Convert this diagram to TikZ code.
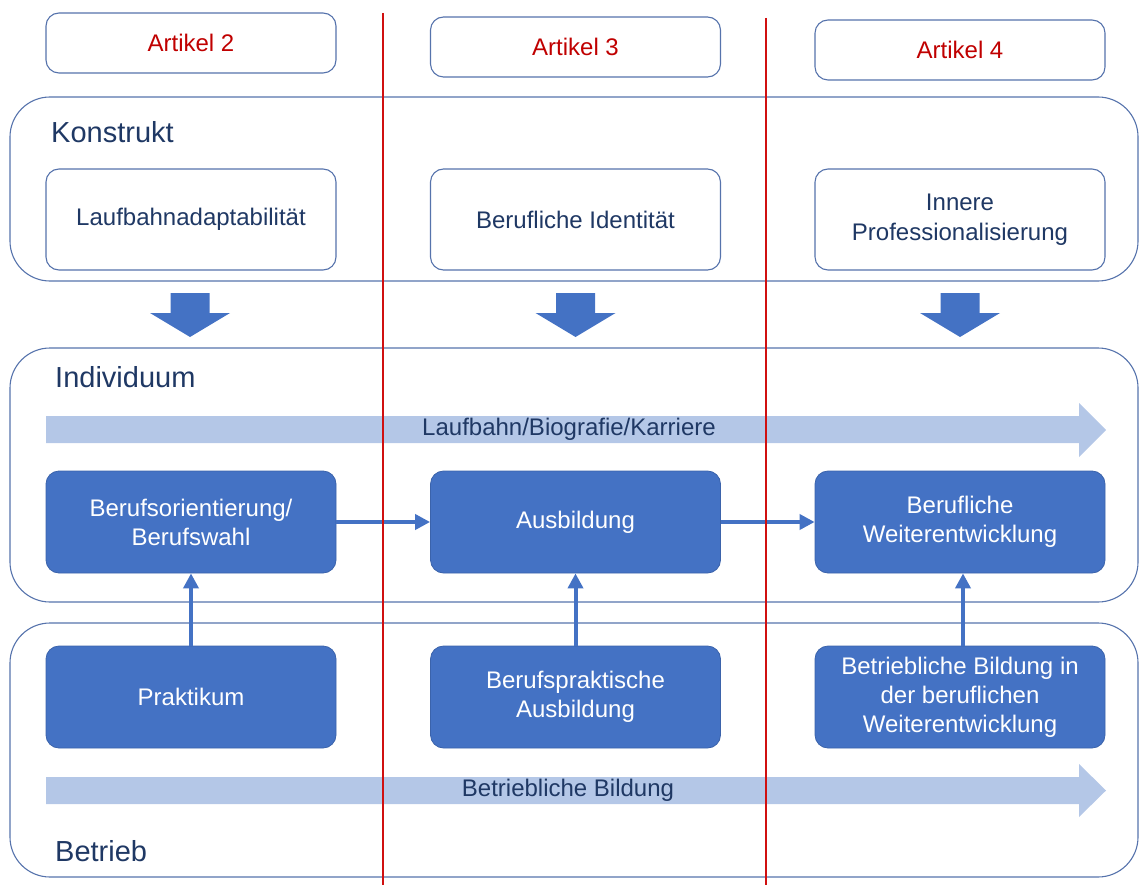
\documentclass[tikz,border=0pt]{standalone}
\usepackage{fontspec}
\setmainfont{Liberation Sans}
\usetikzlibrary{arrows.meta}
\definecolor{navy}{HTML}{1F3864}
\definecolor{boxline}{HTML}{5673AC}
\definecolor{bluefill}{HTML}{4472C4}
\definecolor{blueline}{HTML}{3B63AB}
\definecolor{lightblue}{HTML}{B4C7E7}
\definecolor{artred}{HTML}{C00000}
\definecolor{sepred}{HTML}{D01010}
\tikzset{
  container/.style={draw=boxline, line width=1.1pt, rounded corners=40pt},
  whitebox/.style={draw=boxline, line width=1.1pt, fill=white, rounded corners=13pt,
    minimum width=290pt, minimum height=101pt, align=center, text=navy,
    font=\fontsize{24}{30}\selectfont, inner sep=0pt},
  artbox/.style={whitebox, minimum height=60pt, text=artred},
  bluebox/.style={draw=blueline, line width=0.8pt, fill=bluefill, rounded corners=13pt,
    minimum width=290pt, minimum height=102pt, align=center, text=white,
    font=\fontsize{24}{29}\selectfont, inner sep=0pt},
  grouplabel/.style={anchor=west, text=navy, font=\fontsize{29}{34}\selectfont, inner sep=0pt},
  bandlabel/.style={text=navy, font=\fontsize{24}{29}\selectfont, inner sep=0pt},
  flow/.style={draw=bluefill, line width=4pt, -{Triangle[length=15pt,width=15pt]}},
  blockarrow/.style={fill=bluefill, draw=none},
  band/.style={fill=lightblue, draw=none},
  separator/.style={draw=sepred, line width=1.1pt}
}
\begin{document}
\begin{tikzpicture}[x=1pt,y=-1pt]
\useasboundingbox (0,0) rectangle (1139,885);
% containers
\draw[container] (10,97) rectangle (1138,281);
\draw[container] (10,348) rectangle (1138,602);
\draw[container] (10,623) rectangle (1138,877);
\node[grouplabel] (lk) at (51,132) {Konstrukt};
\node[grouplabel] (li) at (55,377) {Individuum};
\node[grouplabel] (lb) at (55,851) {Betrieb};
% Artikel boxes
\node[artbox] (a2) at (191,43) {Artikel 2};
\node[artbox] (a3) at (575.5,47) {Artikel 3};
\node[artbox] (a4) at (960,50) {Artikel 4};
% Konstrukt boxes
\node[whitebox] (k1) at (191,219.5) {Laufbahnadaptabilität};
\node[whitebox] (k2) at (575.5,219.5) {Berufliche Identität};
\node[whitebox] (k3) at (960,219.5) {Innere\\Professionalisierung};
% down block arrows
\foreach \cx in {190,575.5,960}{
  \fill[blockarrow] (\cx-19.5,293) -- (\cx+19.5,293) -- (\cx+19.5,313) -- (\cx+40,313)
     -- (\cx,337) -- (\cx-40,313) -- (\cx-19.5,313) -- cycle;
}
% bands
\fill[band] (46,416) -- (1079,416) -- (1079,403) -- (1106,430) -- (1079,457) -- (1079,443) -- (46,443) -- cycle;
\node[bandlabel] (t1) at (569,429) {Laufbahn/Biografie/Karriere};
\fill[band] (46,777) -- (1079,777) -- (1079,764) -- (1106,790.5) -- (1079,817) -- (1079,804) -- (46,804) -- cycle;
\node[bandlabel] (t2) at (568,790) {Betriebliche Bildung};
% individuum boxes
\node[bluebox] (i1) at (191,522) {Berufsorientierung/\\Berufswahl};
\node[bluebox] (i2) at (575.5,522) {Ausbildung};
\node[bluebox] (i3) at (960,522) {Berufliche\\Weiterentwicklung};
% betrieb boxes
\node[bluebox] (b1) at (191,697) {Praktikum};
\node[bluebox] (b2) at (575.5,697) {Berufspraktische\\Ausbildung};
\node[bluebox] (b3) at (960,697) {Betriebliche Bildung in\\der beruflichen\\Weiterentwicklung};
% connectors
\draw[flow] (i1.east) -- (i2.west);
\draw[flow] (i2.east) -- (i3.west);
\draw[flow] (b1.north) -- (i1.south);
\draw[flow] (b2.north) -- (i2.south);
\draw[flow] ([xshift=3pt]b3.north) -- ([xshift=3pt]i3.south);
% separators
\coordinate (s1t) at (383,13);
\coordinate (s1b) at (383,885);
\coordinate (s2t) at (766,18);
\coordinate (s2b) at (766,885);
\draw[separator] (s1t) -- (s1b);
\draw[separator] (s2t) -- (s2b);
\end{tikzpicture}
\end{document}
